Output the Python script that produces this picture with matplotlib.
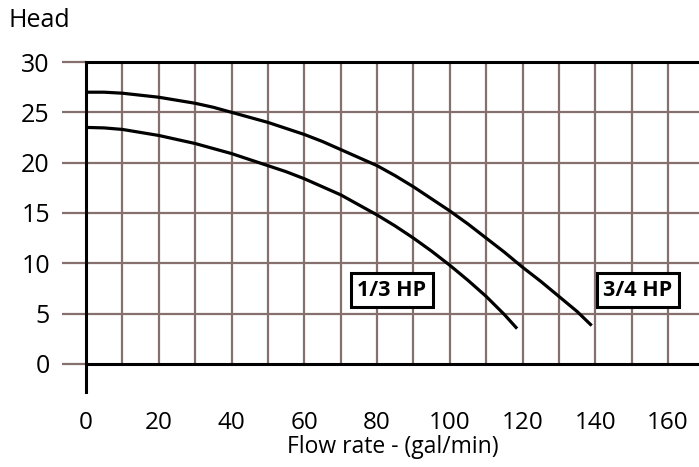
import numpy as np
import matplotlib.pyplot as plt

plt.rcParams["font.family"] = ["Open Sans", "DejaVu Sans"]

# pump curves (flow in gal/min, head)
flow_34 = [0, 5, 10, 15, 20, 25, 30, 35, 40, 45, 50, 55, 60, 65, 70, 75, 80, 85,
           90, 95, 100, 105, 110, 115, 120, 125, 130, 135, 139]
head_34 = [27.0, 27.0, 26.9, 26.7, 26.5, 26.2, 25.9, 25.5, 25.0, 24.5, 24.0, 23.4,
           22.8, 22.1, 21.3, 20.5, 19.7, 18.7, 17.6, 16.4, 15.2, 13.9, 12.5, 11.1,
           9.6, 8.2, 6.7, 5.2, 3.8]
flow_13 = [0, 5, 10, 15, 20, 25, 30, 35, 40, 45, 50, 55, 60, 65, 70, 75, 80, 85,
           90, 95, 100, 105, 110, 115, 118.5]
head_13 = [23.5, 23.45, 23.3, 23.0, 22.7, 22.3, 21.9, 21.4, 20.9, 20.3, 19.7, 19.1,
           18.4, 17.6, 16.8, 15.8, 14.8, 13.7, 12.5, 11.2, 9.8, 8.3, 6.7, 4.9, 3.5]

x_ticks = [0, 20, 40, 60, 80, 100, 120, 140, 160]
y_ticks = [0, 5, 10, 15, 20, 25, 30]
x_grid = np.arange(10, 170, 10)

label_13 = "1/3 HP"
label_34 = "3/4 HP"
label_13_pos = (84, 7.3)
label_34_pos = (151.7, 7.3)

grid_col = "#85706d"

fig = plt.figure(figsize=(6.99, 4.67), dpi=100)
ax = fig.add_axes([0.123, 0.1606, 0.877, 0.7066])
ax.set_xlim(0, 168.5)
ax.set_ylim(-2.8, 30)

# grid
for xv in x_grid:
    ax.plot([xv, xv], [0, 30], color=grid_col, lw=1.6, zorder=1)
for yv in y_ticks[1:-1]:
    ax.axhline(yv, color=grid_col, lw=1.6, zorder=1)

# axes lines
ax.axhline(0, color="black", lw=2.2, zorder=3)
ax.axhline(30, color="black", lw=2.2, zorder=3, clip_on=False)
for s in ["top", "right", "bottom"]:
    ax.spines[s].set_visible(False)
ax.spines["left"].set_linewidth(2.2)
ax.spines["left"].set_zorder(4)

# curves
ax.plot(flow_34, head_34, color="black", lw=2.3, zorder=5, solid_capstyle="butt")
ax.plot(flow_13, head_13, color="black", lw=2.3, zorder=5, solid_capstyle="butt")

box = dict(boxstyle="square,pad=0.3", facecolor="white", edgecolor="black", linewidth=2.2)
ax.text(*label_13_pos, label_13, ha="center", va="center", fontsize=15.5,
        fontweight="bold", bbox=box, zorder=6)
ax.text(*label_34_pos, label_34, ha="center", va="center", fontsize=15.5,
        fontweight="bold", bbox=box, zorder=6)

# ticks
ax.set_xticks(x_ticks)
ax.set_yticks(y_ticks)
ax.tick_params(axis="x", length=0, pad=14, labelsize=17.5)
ax.tick_params(axis="y", length=17, width=1.6, color=grid_col, pad=9, labelsize=18)
ax.set_xlabel("Flow rate - (gal/min)", fontsize=16.5, va="baseline")
ax.xaxis.set_label_coords(0.5, -0.185)
fig.text(0.012, 0.956, "Head", fontsize=18, va="center", ha="left")

plt.savefig("out.png", dpi=100)
